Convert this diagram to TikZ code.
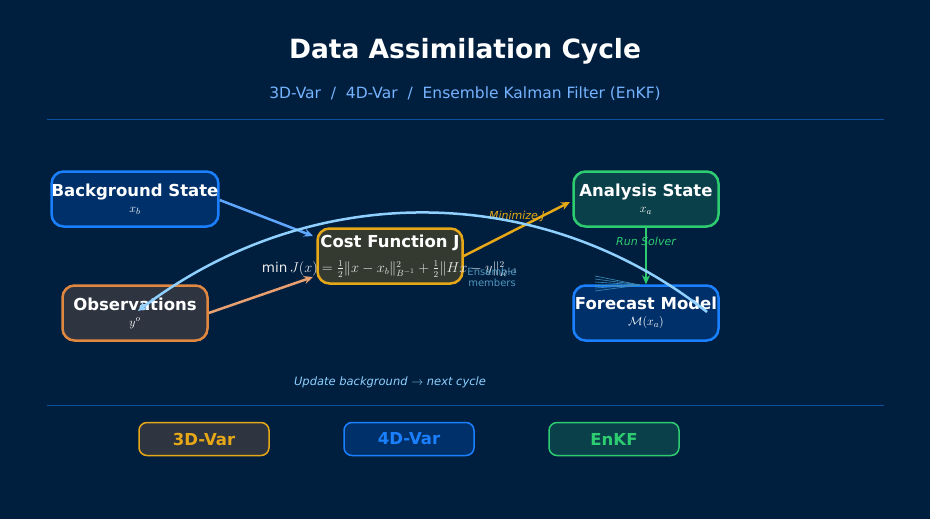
\documentclass[tikz,border=0pt]{standalone}
\usepackage{fontspec}
\setmainfont{DejaVu Sans}
\usepackage{amsmath}
\usetikzlibrary{arrows.meta}
\definecolor{bg}{HTML}{001F3F}
\definecolor{bblue}{HTML}{1A80FF}
\definecolor{fblue}{HTML}{00306A}
\definecolor{orng}{HTML}{E6A817}
\definecolor{obsor}{HTML}{E08840}
\definecolor{grn}{HTML}{2ECC71}
\definecolor{lblue}{HTML}{8FD0FF}
\definecolor{fgray}{HTML}{2E3440}
\definecolor{fcost}{HTML}{343A30}
\definecolor{fgrn}{HTML}{0A404A}
\definecolor{ensc}{HTML}{3C8CBE}
\definecolor{ensl}{HTML}{5096BE}
\definecolor{obsar}{HTML}{E8A070}
\begin{document}
\begin{tikzpicture}[x=1pt,y=-1pt,
 box/.style={rounded corners=12pt,line width=2.5pt,minimum width=145pt,minimum height=55pt,inner sep=0pt,align=center,text=white,font=\bfseries\fontsize{16.5}{19}\selectfont},
 tag/.style={rounded corners=8pt,line width=1.5pt,minimum width=130pt,minimum height=33pt,font=\bfseries\fontsize{16.5}{19}\selectfont},
 arr/.style={line width=2.5pt,-{Stealth[length=9pt,width=8pt]}}]
\fill[bg] (0,0) rectangle (930,519);
\node (title) at (465,51) {\textcolor{white}{\bfseries\fontsize{26.5}{30}\selectfont Data Assimilation Cycle}};
\node (subt) at (465,94) {\textcolor{bblue!60!white}{\fontsize{15.5}{18}\selectfont 3D-Var\ \ /\ \ 4D-Var\ \ /\ \ Ensemble Kalman Filter (EnKF)}};
\draw[bblue!50!bg,line width=0.8pt] (47,119) coordinate (l1) -- (884,119) coordinate (l2);
\draw[bblue!50!bg,line width=0.8pt] (47,405) coordinate (l3) -- (884,405) coordinate (l4);
\node[box,draw=bblue,fill=fblue] (bgs) at (135,199) {Background State\\[-3pt]\mdseries\fontsize{12.5}{13}\selectfont$x_b$};
\node[box,draw=obsor,fill=fgray] (obs) at (135,313) {Observations\\[-3pt]\mdseries\fontsize{12.5}{13}\selectfont$y^o$};
\node[box,draw=orng,fill=fcost] (cost) at (390,256) {Cost Function J\\[10pt]};
\node[box,draw=grn,fill=fgrn] (ana) at (646,199) {Analysis State\\[-3pt]\mdseries\fontsize{12.5}{13}\selectfont$x_a$};
\node[box,draw=bblue,fill=fblue] (fc) at (646,313) {Forecast Model\\[-3pt]\mdseries\fontsize{12.5}{13}\selectfont$\mathcal{M}(x_a)$};
\node[text=white!85!gray,font=\fontsize{13.5}{15}\selectfont] (formula) at (390,269) {$\min J(x)=\frac12\|x-x_b\|^2_{B^{-1}}+\frac12\|Hx-y\|^2_{R^{-1}}$};
\draw[arr,color=bblue!70!white] (bgs.east) ++(0,1) -- (313,236);
\draw[arr,color=obsar] (obs.east) -- (313,277);
\draw[arr,color=orng] (cost.east) -- (570,202) node[pos=0.5,above,yshift=3pt,font=\itshape\fontsize{11}{12}\selectfont] (minj) {Minimize J};
\draw[arr,color=grn] (ana.south) -- (fc.north) node[pos=0.25,font=\itshape\fontsize{11}{12}\selectfont,text=grn] (rs) {Run Solver};
\node[text=ensl,font=\fontsize{10}{11}\selectfont,align=center] (ens) at (492,277) {Ensemble\\members};
\foreach \yy in {276,279,282,285,288,291}{\draw[ensc,line width=0.6pt] (595,\yy) -- (640,285);}
\draw[arr,color=lblue] (707,312) .. controls (540,180) and (310,180) .. (138,311);
\node[text=lblue,font=\itshape\fontsize{11.5}{13}\selectfont] (upd) at (390,382) {Update background $\rightarrow$ next cycle};
\node[tag,draw=orng,fill=fgray,text=orng] (t1) at (204,439) {3D-Var};
\node[tag,draw=bblue,fill=fblue,text=bblue] (t2) at (409,439) {4D-Var};
\node[tag,draw=grn,fill=fgrn,text=grn] (t3) at (614,439) {EnKF};
\end{tikzpicture}
\end{document}
